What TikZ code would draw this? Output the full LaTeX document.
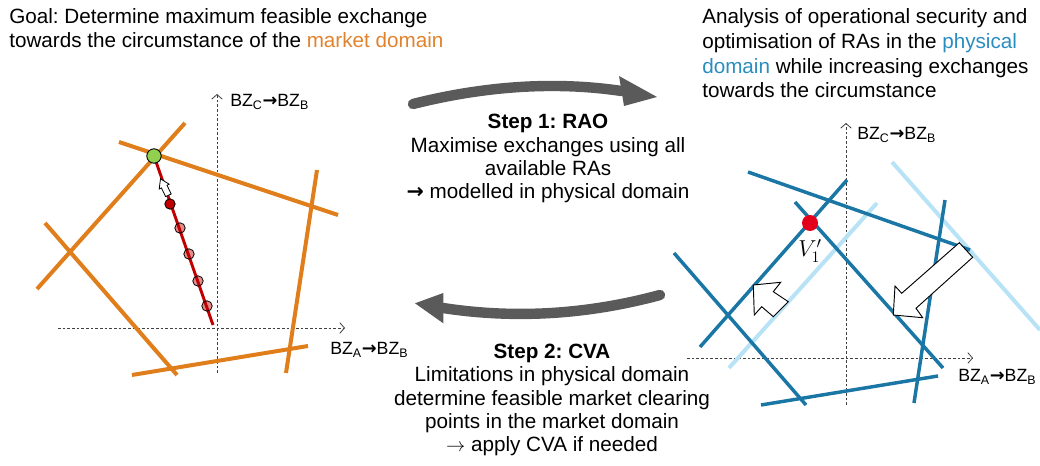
\documentclass[tikz,border=0pt]{standalone}
\usepackage{fontspec}
\setmainfont{Liberation Sans}
\newfontfamily\dejavu{DejaVu Sans}
\usetikzlibrary{arrows.meta}
\frenchspacing
\definecolor{orng}{HTML}{E07E1C}
\definecolor{mkt}{HTML}{E0832F}
\definecolor{blu}{HTML}{1A76A4}
\definecolor{lblu}{HTML}{B8E2F6}
\definecolor{phys}{HTML}{2A8DC0}
\definecolor{dred}{HTML}{C00000}
\definecolor{grn}{HTML}{92D050}
\definecolor{vred}{HTML}{E3001B}
\definecolor{grayarr}{HTML}{5A5A5A}
\definecolor{axgray}{HTML}{404040}
\newcommand{\thickarr}{{\dejavu\bfseries →}}
\tikzset{
  toptext/.style={inner sep=0pt, align=left, font=\fontsize{15.5}{18.7}\selectfont},
  steptext/.style={inner sep=0pt, align=center, font=\fontsize{15.5}{17.6}\selectfont},
  axlbl/.style={inner sep=0pt, font=\fontsize{13.3}{15}\selectfont},
  axisline/.style={axgray, line width=0.6pt, dash pattern=on 2pt off 1.5pt, -{Straight Barb[length=3.5pt,width=8pt,line width=0.6pt]}},
  mline/.style={orng, line width=3pt},
  pline/.style={blu, line width=2.6pt},
  lpline/.style={lblu, line width=3pt},
  graybar/.style={grayarr, line width=7.8pt},
  blockarr/.style={draw=black, fill=white, line width=0.7pt, line join=miter},
}
\begin{document}
\begin{tikzpicture}[x=0.75pt,y=-0.75pt]
\useasboundingbox (0,0) rectangle (1040,466);

% ---------- texts (base anchor = baseline of the last line) ----------
\node[toptext, anchor=base west] (goal) at (9,48)
  {Goal: Determine maximum feasible exchange\\towards the circumstance of the \textcolor{mkt}{market domain}};
\node[toptext, anchor=base west] (analysis) at (702,98)
  {Analysis of operational security and\\optimisation of RAs in the \textcolor{phys}{physical}\\\textcolor{phys}{domain} while increasing exchanges\\towards the circumstance};
\node[steptext, anchor=base] (step1) at (548,199)
  {\textbf{Step 1: RAO}\\Maximise exchanges using all\\available RAs\\\thickarr{} modelled in physical domain};
\node[steptext, anchor=base] (step2) at (552,452)
  {\textbf{Step 2: CVA}\\Limitations in physical domain\\determine feasible market clearing\\points in the market domain\\$\rightarrow$ apply CVA if needed};

% ---------- gray arrows ----------
\draw[graybar, line cap=round] (413,104) .. controls (486,85.7) and (555.7,81.3) .. (621.5,91);
\fill[grayarr] (619,76) -- (657,97) -- (624,106) -- cycle;
\draw[graybar, line cap=round] (660,295) .. controls (587,314.7) and (514.7,319) .. (443,308);
\fill[grayarr] (443.3,293) -- (415,303.3) -- (443.3,323.3) -- cycle;

% ---------- left diagram (market domain) ----------
\draw[axisline] (217,373) -- (217,94);
\draw[axisline] (58,328) -- (345,328);
\node[axlbl, anchor=base west] (lyl) at (230,107) {BZ\textsubscript{C}\thickarr BZ\textsubscript{B}};
\node[axlbl, anchor=base west] (lxl) at (330,355) {BZ\textsubscript{A}\thickarr BZ\textsubscript{B}};

\draw[mline] (185,123) -- (37,289);
\draw[mline] (119,142) -- (338,215);
\draw[mline] (317,170) -- (286,373);
\draw[mline] (45,223) -- (177,375);
\draw[mline] (132,375) -- (308,346);

\draw[dred, line width=2.2pt] (154,156) -- (213,325);
\foreach \p in {(180,228),(189,254),(198,281),(207,306)}
  \filldraw[draw=black, fill=dred, fill opacity=0.45, line width=0.6pt] \p circle[radius=5.2];
\filldraw[draw=black, fill=dred, line width=0.6pt] (170,204) circle[radius=5.2];
\filldraw[draw=black, fill=grn, line width=0.7pt] (154,156) circle[radius=7.2];
\filldraw[blockarr, line width=0.6pt] (160.5,178.8) -- (169.2,184.2) -- (167,185.3) -- (171.2,194)
  -- (165.6,196.6) -- (161.4,187.9) -- (159.2,189) -- cycle;

% ---------- right diagram (physical domain) ----------
\draw[axisline] (846,405) -- (846,123);
\draw[axisline] (687,358) -- (973,358);
\node[axlbl, anchor=base west] (ryl) at (857,140) {BZ\textsubscript{C}\thickarr BZ\textsubscript{B}};
\node[axlbl, anchor=base west] (rxl) at (958,382) {BZ\textsubscript{A}\thickarr BZ\textsubscript{B}};

\draw[lpline] (877,203) -- (729,368);
\draw[lpline] (892,162) -- (1040,330);

\draw[pline] (748,172) -- (970,250);
\draw[pline] (847,180) -- (700,347);
\draw[pline] (795,202) -- (943,368);
\draw[pline] (674,253) -- (806,405);
\draw[pline] (945,200) -- (914,403);
\draw[pline] (761,405) -- (938,376);

\fill[vred] (810,223) circle[radius=8];
\node[inner sep=0pt, font=\fontsize{18}{21}\selectfont] (v1) at (810,251) {$V_1'$};

\filldraw[blockarr] (753.3,285) -- (780.7,282.3) -- (773.3,291.7) -- (788.3,301.7)
  -- (773.3,316.7) -- (761.7,306.7) -- (754.3,315) -- cycle;
\filldraw[blockarr] (893.3,315) -- (895,286) -- (901.7,293.3) -- (959.3,242.7)
  -- (972.7,257.3) -- (916,308.3) -- (922.7,317.7) -- cycle;
\end{tikzpicture}
\end{document}
